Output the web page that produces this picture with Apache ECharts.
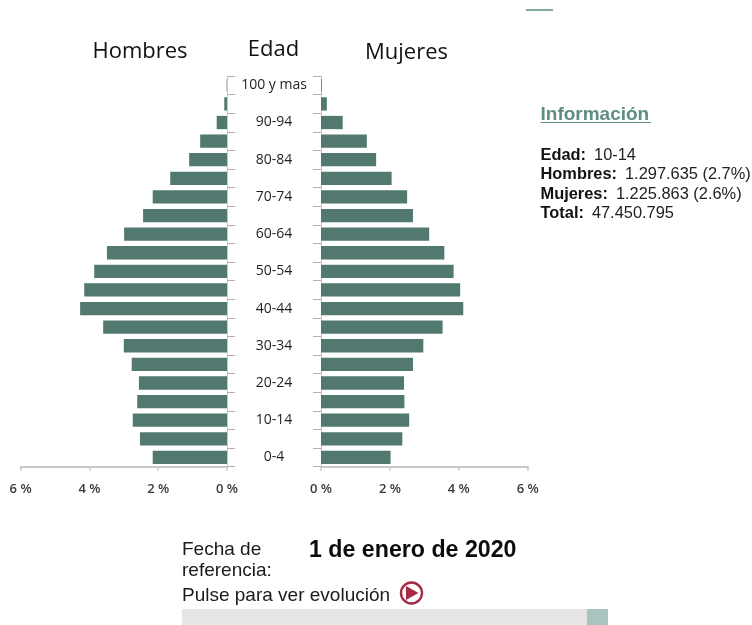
<!DOCTYPE html>
<html>
<head>
<meta charset="utf-8">
<title>Pirámide de población</title>
<script src="https://cdn.jsdelivr.net/npm/echarts@6/dist/echarts.min.js"></script>
<style>
html,body{margin:0;padding:0;background:#fff}
#chart{width:752px;height:625px}
</style>
</head>
<body>
<div id="chart"></div>
<script>
// Age groups, youngest first, so the first band sits at the foot of the pyramid
const ageGroups = ['0-4','5-9','10-14','15-19','20-24','25-29','30-34','35-39','40-44','45-49','50-54','55-59','60-64','65-69','70-74','75-79','80-84','85-89','90-94','95-99','100 y mas'];
// Share of the total population, in percent
const hombres = [2.16,2.53,2.74,2.61,2.56,2.77,3.00,3.60,4.27,4.15,3.86,3.49,2.99,2.44,2.16,1.65,1.10,0.78,0.30,0.08,0.01];
const mujeres = [2.02,2.36,2.56,2.42,2.41,2.67,2.97,3.53,4.13,4.04,3.85,3.58,3.14,2.67,2.50,2.05,1.60,1.33,0.63,0.17,0.02];
const percentTicks = [0,2,4,6];

const infoLabels = ['Edad:','Hombres:','Mujeres:','Total:'];
const infoValues = ['10-14','1.297.635 (2.7%)','1.225.863 (2.6%)','47.450.795'];
const fechaLines = ['Fecha de','referencia:'];
const fechaValor = '1 de enero de 2020';
const pulseText = 'Pulse para ver evolución';

const barColor = '#52796f';
const axisColor = '#c8c8c8';
const headFont = '"Open Sans", sans-serif';
const bodyFont = '"Liberation Sans", Arial, sans-serif';

function percentAxis(gridIndex, inverse) {
  return {
    type: 'value', gridIndex, inverse, min: 0, max: percentTicks[percentTicks.length - 1], interval: 2,
    axisLine: { show: true, lineStyle: { color: axisColor, width: 2 } },
    axisTick: { show: true, length: 4, lineStyle: { color: axisColor, width: 1.5 } },
    axisLabel: { formatter: '{value} %', color: '#3a3a3a', fontFamily: headFont, fontWeight: 600, fontSize: 13, margin: 16 },
    splitLine: { show: false }
  };
}
function ageAxis(gridIndex, position, showLabels) {
  return {
    type: 'category', gridIndex, position, data: ageGroups,
    axisLine: { show: true, onZero: false, lineStyle: { color: axisColor, width: 1 } },
    axisTick: { show: true, interval: 0, length: 8, lineStyle: { color: '#b5b0ae', width: 1 } },
    axisLabel: { show: showLabels, interval: 1, align: 'center', margin: 47, padding: [2, 0, 0, 0], color: '#1f1f1f', fontFamily: headFont, fontSize: 14 }
  };
}
function pyramidSide(name, values, index) {
  return {
    name, type: 'bar', xAxisIndex: index, yAxisIndex: index, data: values,
    barWidth: 13.3, itemStyle: { color: barColor }, silent: true
  };
}
function heading(text, x, y) {
  return { type: 'text', x, y, style: { text, fill: '#111', font: '22px ' + headFont, align: 'center', verticalAlign: 'middle' } };
}
function bodyText(text, x, y, font, fill) {
  return { type: 'text', x, y, style: { text, fill: fill || '#1a1a1a', font: font || ('19px ' + bodyFont), verticalAlign: 'middle' } };
}

const infoBlock = infoLabels.map((label, i) => ({
  type: 'text', x: 540.5, y: 155 + i * 19.6,
  style: {
    text: '{b|' + label + '}{n|' + infoValues[i] + '}',
    verticalAlign: 'middle',
    rich: {
      b: { font: 'bold 16.4px ' + bodyFont, fill: '#111', padding: [0, 8, 0, 0] },
      n: { font: '16.4px ' + bodyFont, fill: '#222' }
    }
  }
}));

const chart = echarts.init(document.getElementById('chart'), null, { renderer: 'canvas' });
chart.setOption({
  animation: false,
  backgroundColor: '#fff',
  grid: [
    { left: 20.6, top: 76, width: 206.4, height: 390.7 },
    { left: 321, top: 76, width: 206.7, height: 390.7 }
  ],
  xAxis: [percentAxis(0, true), percentAxis(1, false)],
  yAxis: [ageAxis(0, 'right', true), ageAxis(1, 'left', false)],
  series: [pyramidSide('Hombres', hombres, 0), pyramidSide('Mujeres', mujeres, 1)],
  graphic: [
    heading('Hombres', 140, 51.5),
    heading('Edad', 273.5, 50),
    heading('Mujeres', 406.5, 53),
    { type: 'line', shape: { x1: 526, y1: 10, x2: 553, y2: 10 }, style: { stroke: '#5f8d83', lineWidth: 1.5 } },
    bodyText('Información', 540.5, 115, 'bold 19px ' + bodyFont, '#5f8d83'),
    { type: 'line', shape: { x1: 540.5, y1: 122.5, x2: 651, y2: 122.5 }, style: { stroke: '#5f8d83', lineWidth: 1.2 } },
    ...infoBlock,
    ...fechaLines.map((t, i) => bodyText(t, 182, 549.5 + i * 21)),
    bodyText(fechaValor, 309, 550.5, 'bold 23.2px ' + bodyFont, '#0c0c0c'),
    bodyText(pulseText, 182, 595.5),
    { type: 'circle', shape: { cx: 411.5, cy: 593, r: 10.5 }, style: { fill: '#fff', stroke: '#a52a45', lineWidth: 2.4 } },
    { type: 'polygon', shape: { points: [[406, 586], [406, 600], [418.5, 593]] }, style: { fill: '#a52a45' } },
    { type: 'rect', shape: { x: 182, y: 609, width: 426, height: 16 }, style: { fill: '#e6e6e6' } },
    { type: 'rect', shape: { x: 587, y: 609, width: 21, height: 16 }, style: { fill: '#a9c4bf' } }
  ]
});
</script>
</body>
</html>
